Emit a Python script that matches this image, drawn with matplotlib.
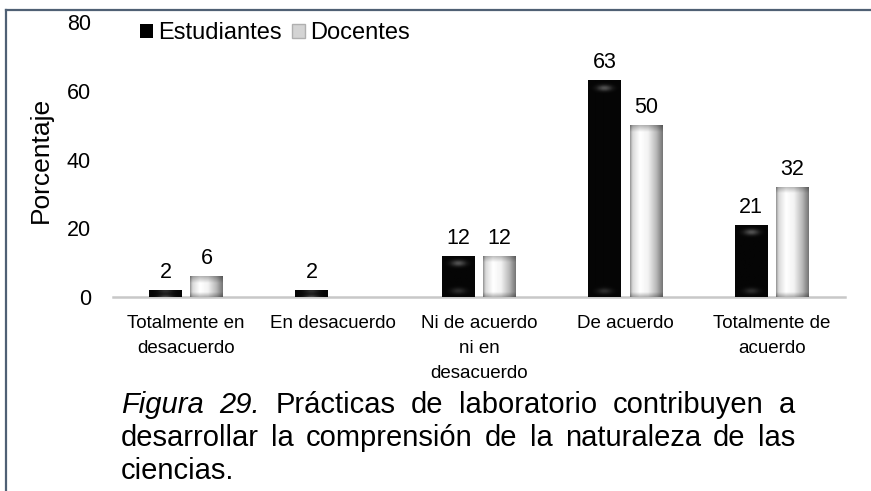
import numpy as np
import matplotlib
matplotlib.use("Agg")
import matplotlib.pyplot as plt
from matplotlib.patches import Patch
from matplotlib.lines import Line2D

plt.rcParams['font.family'] = ['Liberation Sans', 'DejaVu Sans']

categories = ["Totalmente en\ndesacuerdo", "En desacuerdo", "Ni de acuerdo\nni en\ndesacuerdo",
              "De acuerdo", "Totalmente de\nacuerdo"]
estudiantes = [2, 2, 12, 63, 21]
docentes = [6, 0, 12, 50, 32]
series_names = ["Estudiantes", "Docentes"]
y_ticks = [0, 20, 40, 60, 80]
ylabel = "Porcentaje"
caption_lines = [
    [("Figura", "italic"), ("29.", "italic"), ("Prácticas", "normal"), ("de", "normal"),
     ("laboratorio", "normal"), ("contribuyen", "normal"), ("a", "normal")],
    [("desarrollar", "normal"), ("la", "normal"), ("comprensión", "normal"), ("de", "normal"),
     ("la", "normal"), ("naturaleza", "normal"), ("de", "normal"), ("las", "normal")],
    [("ciencias.", "normal")],
]

W, H = 871, 491
fig = plt.figure(figsize=(W / 100, H / 100), dpi=100)
ax = fig.add_axes([113 / W, 1 - 297 / H, 732 / W, 275 / H])

x = np.arange(len(categories))
bw = 0.225
off = 0.141
b1 = ax.bar(x - off, estudiantes, bw, color='black', zorder=2)
b2 = ax.bar(x + off, docentes, bw, color='#e0e0e0', zorder=2)

px_per_unit = 275 / 80.0


def shade_bar(rect, kind):
    h = rect.get_height()
    if h <= 0:
        rect.set_visible(False)
        return
    x0, w = rect.get_x(), rect.get_width()
    ny = max(int(round(h * px_per_unit)), 2)
    nx = 40
    u = (np.arange(nx) + 0.5) / nx
    d_top = np.arange(ny)[:, None] + 0.5
    d_bot = ny - d_top
    if kind == 'light':
        prof = np.interp(u, [0, 0.08, 0.3, 0.55, 0.8, 1.0], [0.55, 0.85, 1.0, 0.95, 0.72, 0.45])
        bev = np.minimum(np.clip(0.7 + 0.3 * d_top / 7, 0, 1), np.clip(0.7 + 0.3 * d_bot / 5, 0, 1))
        arr = prof[None, :] * bev
    else:
        hl = 0.3 * np.exp(-((d_top - 8) / 3) ** 2) * np.exp(-((u[None, :] - 0.5) / 0.22) ** 2)
        hb = 0.15 * np.exp(-((d_bot - 6) / 3) ** 2) * np.exp(-((u[None, :] - 0.5) / 0.22) ** 2)
        arr = 0.02 + hl + hb
    im = ax.imshow(arr, extent=(x0, x0 + w, 0, h), origin='upper', aspect='auto', cmap='gray',
                   vmin=0, vmax=1, zorder=3, interpolation='bilinear')
    im.set_clip_path(rect)


for r in b1:
    shade_bar(r, 'dark')
for r in b2:
    shade_bar(r, 'light')

ax.bar_label(b1, labels=[str(v) if v > 0 else "" for v in estudiantes], padding=5, fontsize=15.5)
ax.bar_label(b2, labels=[str(v) if v > 0 else "" for v in docentes], padding=5, fontsize=15.5)

ax.set_xlim(-0.5, len(categories) - 0.5)
ax.set_ylim(0, 80)
ax.set_yticks(y_ticks)
ax.set_xticks(x)
ax.set_xticklabels(categories, fontsize=13.5, linespacing=1.6)
ax.tick_params(axis='x', length=0, pad=13)
ax.tick_params(axis='y', length=0, pad=16, labelsize=15.5)
for s in ['top', 'right', 'left']:
    ax.spines[s].set_visible(False)
ax.spines['bottom'].set_color('#c8c8c8')
ax.spines['bottom'].set_linewidth(1.8)
ax.set_ylabel(ylabel, fontsize=19)
ax.yaxis.set_label_coords(-0.082, 0.5)

handles = [Patch(facecolor='black'), Patch(facecolor='#d4d4d4', edgecolor='#b0b0b0')]
fig.legend(handles, series_names, loc='center left', bbox_to_anchor=(140 / W, 1 - 33 / H),
           ncol=2, frameon=False, fontsize=17, handlelength=0.55, handleheight=0.55,
           handletextpad=0.2, columnspacing=0.45, borderpad=0, borderaxespad=0)

# frame lines
fig.add_artist(Line2D([5.5 / W, 1], [1 - 9.5 / H, 1 - 9.5 / H], color='#4f6074', lw=1.6))
fig.add_artist(Line2D([5.5 / W, 5.5 / W], [0, 1 - 9.5 / H], color='#4f6074', lw=1.6))

# justified caption
fig.canvas.draw()
renderer = fig.canvas.get_renderer()
cap_left, cap_right = 121, 795
baselines = [413, 446, 479]
cap_fs = 21
helpers = [fig.text(0, 0, "a a", fontsize=cap_fs), fig.text(0, 0, "aa", fontsize=cap_fs)]
space_w = helpers[0].get_window_extent(renderer).width - helpers[1].get_window_extent(renderer).width
for hobj in helpers:
    hobj.remove()
for li, (words, base) in enumerate(zip(caption_lines, baselines)):
    texts = []
    for wtxt, st in words:
        t = fig.text(0, 1 - base / H, wtxt, fontsize=cap_fs, style=st, va='baseline', ha='left')
        texts.append(t)
    widths = [t.get_window_extent(renderer).width for t in texts]
    if li < len(caption_lines) - 1 and len(texts) > 1:
        gap = (cap_right - cap_left - sum(widths)) / (len(texts) - 1)
    else:
        gap = space_w
    xp = cap_left
    for t, wd in zip(texts, widths):
        t.set_x(xp / W)
        xp += wd + gap

fig.savefig("out.png", dpi=100)
